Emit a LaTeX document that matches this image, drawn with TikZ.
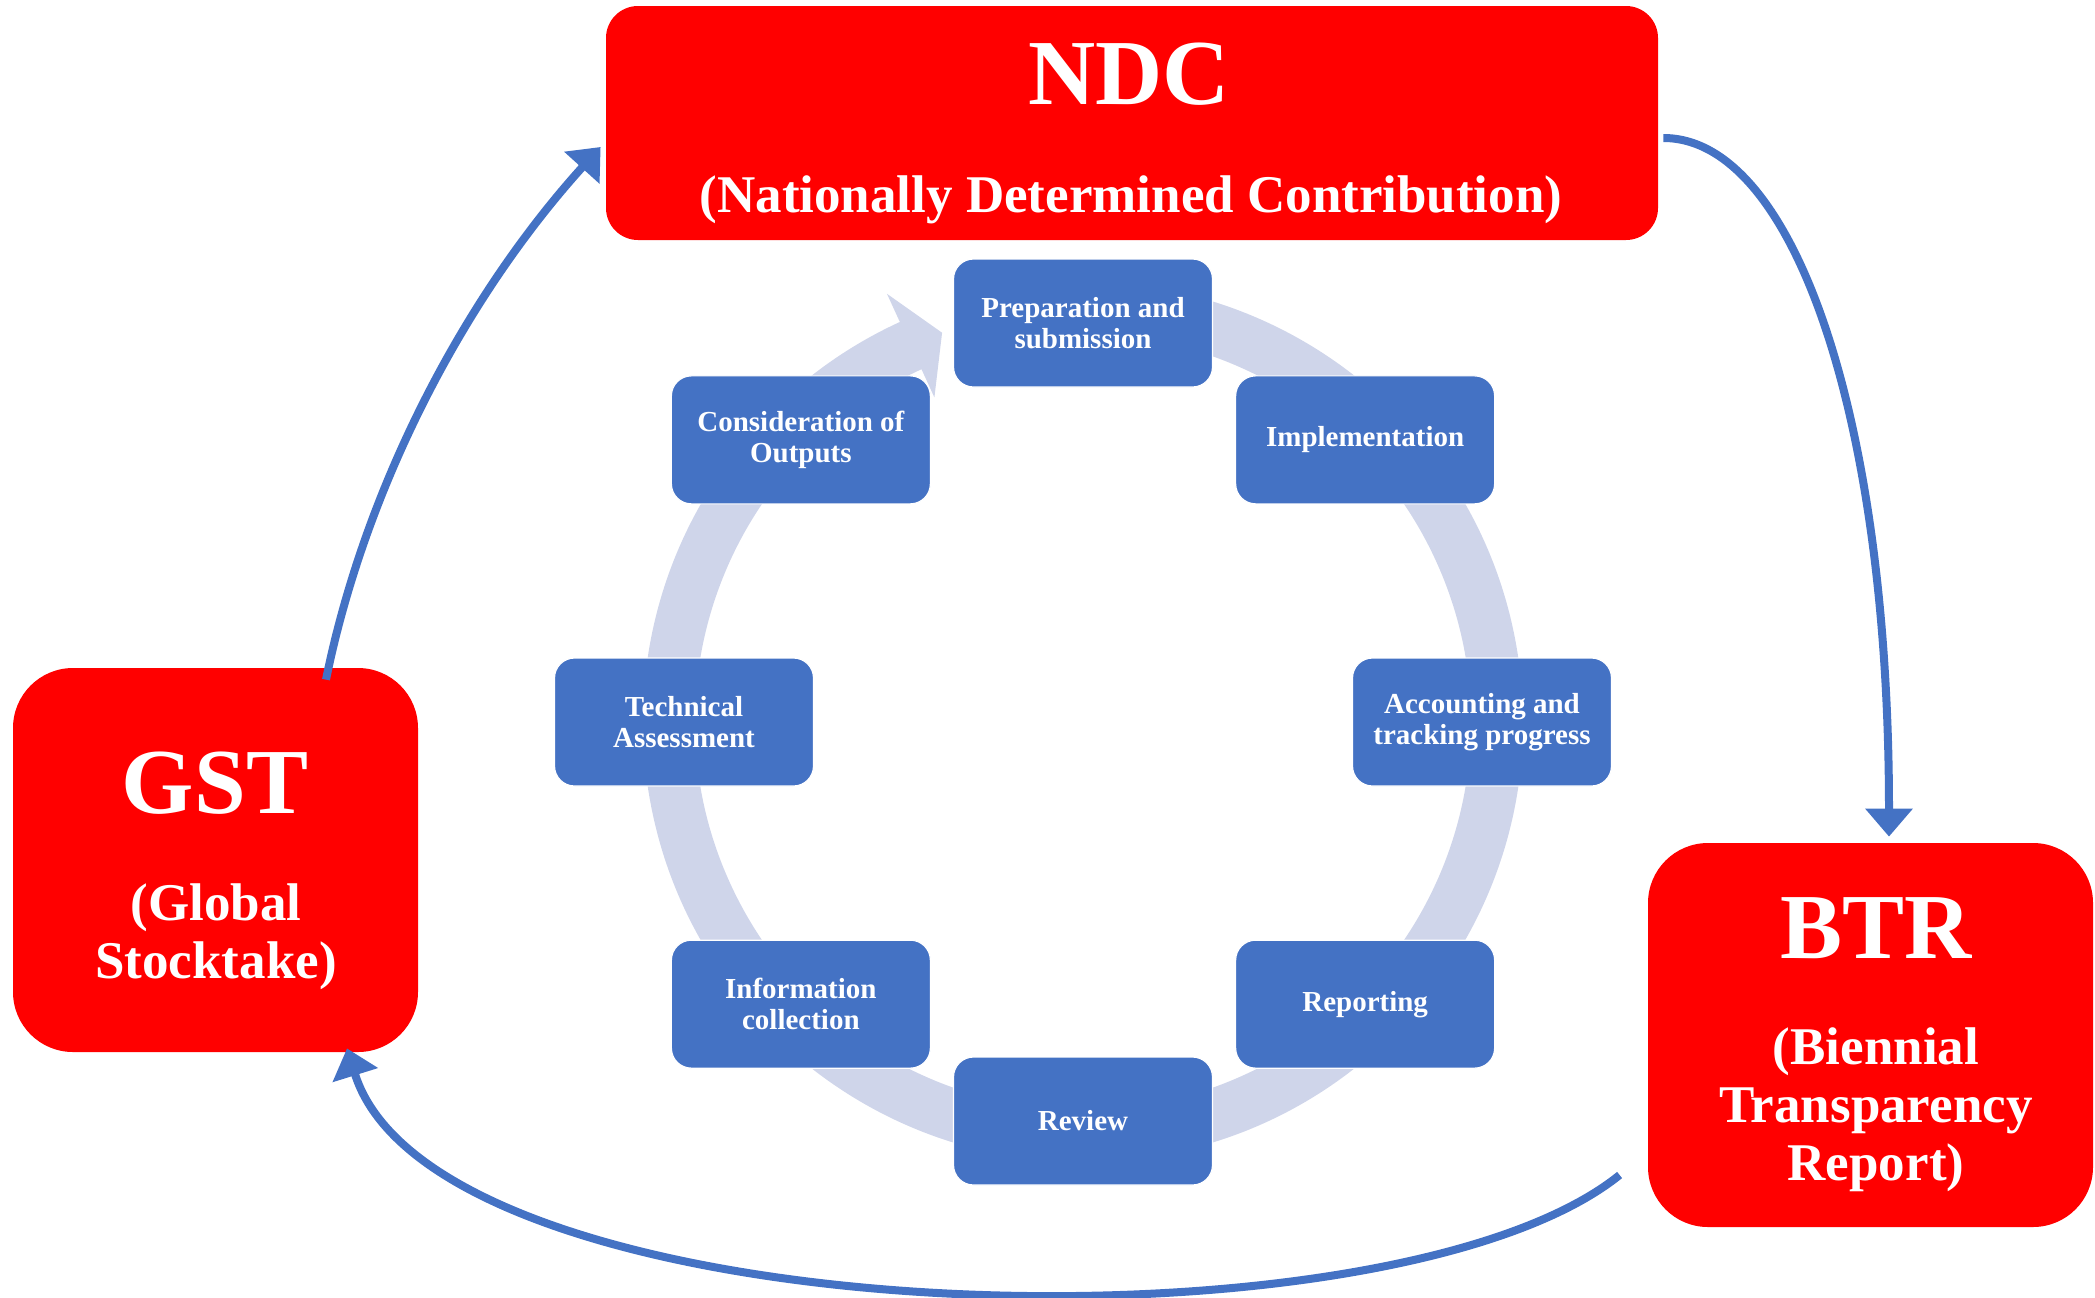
\documentclass[tikz,border=0pt]{standalone}
\usepackage{fontspec}
\setmainfont{Liberation Serif}
\usetikzlibrary{calc,arrows.meta}
\definecolor{boxred}{HTML}{FF0000}
\definecolor{stepblue}{HTML}{4472C4}
\definecolor{ringblue}{HTML}{CFD5EA}
\definecolor{linkblue}{HTML}{4472C4}
\begin{document}
\begin{tikzpicture}[x=0.5pt,y=-0.5pt,
  stage/.style={fill=stepblue, draw=white, line width=0.6pt, rounded corners=10pt,
    minimum width=129.5pt, minimum height=64pt, inner sep=0pt, text=white,
    align=center, font=\fontsize{14.5pt}{15.5pt}\selectfont\bfseries},
  redbox/.style={fill=boxred, draw=none, inner sep=0pt},
  title/.style={text=white, font=\fontsize{46.5pt}{50pt}\selectfont\bfseries,
    anchor=base, inner sep=0pt},
  subtitle/.style={text=white, font=\fontsize{26.5pt}{29pt}\selectfont\bfseries,
    anchor=base, inner sep=0pt, align=center},
  link/.style={draw=linkblue, line width=4pt, -{Triangle[width=23pt,length=14pt]}}
]
\useasboundingbox (0,0) rectangle (2095,1297);

% centre of the cycle
\coordinate (c) at (1083,722);

% circular arrow behind the stages
\fill[ringblue] ($(c)+(-100:440)$) arc[start angle=-100, end angle=245.4, radius=440]
  -- ($(c)+(245.4:471)$) -- ($(c)+(250.1:414)$) -- ($(c)+(245.4:357)$)
  -- ($(c)+(245.4:388)$) arc[start angle=245.4, end angle=-100, radius=388] -- cycle;

% stages of the cycle
\node[stage] (prep) at ($(c)+(-90:399)$) {Preparation and\\submission};
\node[stage] (impl) at ($(c)+(-45:399)$) {Implementation};
\node[stage] (acct) at ($(c)+(0:399)$) {Accounting and\\tracking progress};
\node[stage] (rep)  at ($(c)+(45:399)$) {Reporting};
\node[stage] (rev)  at ($(c)+(90:399)$) {Review};
\node[stage] (info) at ($(c)+(135:399)$) {Information\\collection};
\node[stage] (tech) at ($(c)+(180:399)$) {Technical\\Assessment};
\node[stage] (cons) at ($(c)+(225:399)$) {Consideration of\\Outputs};

% the three red blocks
\node[redbox, rounded corners=16pt, minimum width=526pt, minimum height=117pt] (ndc) at (1132,123) {};
\node[redbox, rounded corners=30pt, minimum width=202.5pt, minimum height=192pt] (gst) at (215.5,860) {};
\node[redbox, rounded corners=30pt, minimum width=222.5pt, minimum height=192pt] (btr) at (1870.5,1035) {};

% block texts (multi-line nodes sit on the baseline of their last line)
\node[title] (ndcT) at (1129,104) {NDC};
\node[subtitle] (ndcS) at (1131,212) {(Nationally Determined Contribution)};
\node[title] (gstT) at (215,813) {GST};
\node[subtitle] (gstS) at (216,978) {(Global\\Stocktake)};
\node[title] (btrT) at (1876,958) {BTR};
\node[subtitle] (btrS) at (1876,1180) {(Biennial\\Transparency\\Report)};

% links between the blocks
\draw[link] ($(gst.north)+(110.5,12)$) .. controls +(40,-196) and +(-134,148) .. ($(ndc.west)+(-5,24)$);
\draw[link] ($(ndc.east)+(5,15)$) .. controls +(130,0) and +(0,-420) .. ($(btr.north)+(18.5,-6)$);
\draw[link] ($(btr.west)+(-28,140)$) .. controls +(-233,188) and +(89,286) .. ($(gst.south)+(131.5,-4)$);
\end{tikzpicture}
\end{document}
